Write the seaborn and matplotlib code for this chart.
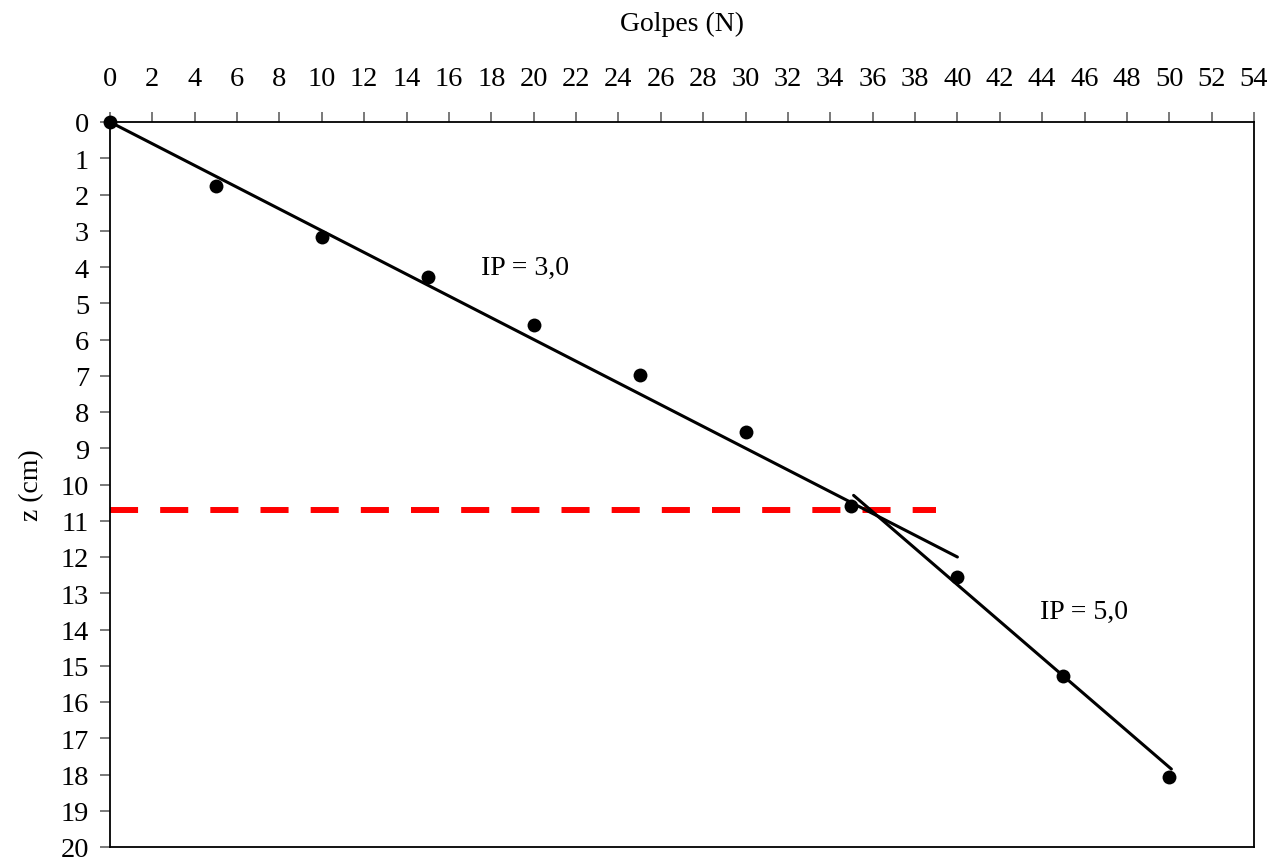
import matplotlib
matplotlib.use("Agg")
import matplotlib.pyplot as plt
import seaborn as sns
import pandas as pd

# Data
golpes = [0, 5, 10, 15, 20, 25, 30, 35, 40, 45, 50]
z_cm = [0.0, 1.77, 3.17, 4.28, 5.6, 6.98, 8.55, 10.6, 12.55, 15.28, 18.07]

line1_x = [0, 40]
line1_y = [0.0, 12.0]
line2_x = [35.1, 50.1]
line2_y = [10.3, 17.85]

red_x = [0, 39]
red_y = [10.7, 10.7]

x_ticks = list(range(0, 56, 2))
y_ticks = list(range(0, 21, 1))

sns.set_theme(style="white")
plt.rcParams['font.family'] = ['Liberation Serif', 'DejaVu Serif']
plt.rcParams['xtick.direction'] = 'out'
plt.rcParams['ytick.direction'] = 'out'
plt.rcParams['text.color'] = 'black'
plt.rcParams['axes.labelcolor'] = 'black'
plt.rcParams['xtick.labelcolor'] = 'black'
plt.rcParams['ytick.labelcolor'] = 'black'

fig = plt.figure(figsize=(12.81, 8.62), dpi=100)
ax = fig.add_axes([110/1281, 1 - 848/862, (1254 - 110)/1281, (848 - 123)/862])

df_pts = pd.DataFrame({"N": golpes, "z": z_cm})
df_l1 = pd.DataFrame({"N": line1_x, "z": line1_y})
df_l2 = pd.DataFrame({"N": line2_x, "z": line2_y})
df_red = pd.DataFrame({"N": red_x, "z": red_y})

sns.lineplot(data=df_red, x="N", y="z", ax=ax, color="#ff0000", linewidth=4.3,
             dashes=False, estimator=None, sort=False)
ax.lines[-1].set_dashes([4.7, 3.7])
sns.lineplot(data=df_l1, x="N", y="z", ax=ax, color="black", linewidth=2.2,
             estimator=None, sort=False)
sns.lineplot(data=df_l2, x="N", y="z", ax=ax, color="black", linewidth=2.2,
             estimator=None, sort=False)
sns.scatterplot(data=df_pts, x="N", y="z", ax=ax, color="black", s=100,
                edgecolor="black", linewidth=0, zorder=5, clip_on=False)

ax.set_xlim(0, 54)
ax.set_ylim(20, 0)
ax.xaxis.set_ticks_position('top')
ax.xaxis.set_label_position('top')
ax.set_xticks(x_ticks)
ax.set_yticks(y_ticks)
ax.tick_params(axis='both', which='major', length=7, width=1.1, color='#555555',
               labelsize=20.5)
ax.tick_params(axis='x', top=True, bottom=False, labeltop=True, labelbottom=False, pad=15)
ax.tick_params(axis='y', left=True, right=False, pad=8)
for sp in ax.spines.values():
    sp.set_linewidth(1.3)
    sp.set_color('black')

ax.set_xlabel("Golpes (N)", fontsize=20, labelpad=26)
ax.set_ylabel("z (cm)", fontsize=20, labelpad=12)

ax.text(19.6, 4.0, "IP = 3,0", fontsize=20, ha='center', va='center')
ax.text(43.9, 13.5, "IP = 5,0", fontsize=20, ha='left', va='center')

fig.savefig("out.png", dpi=100)
